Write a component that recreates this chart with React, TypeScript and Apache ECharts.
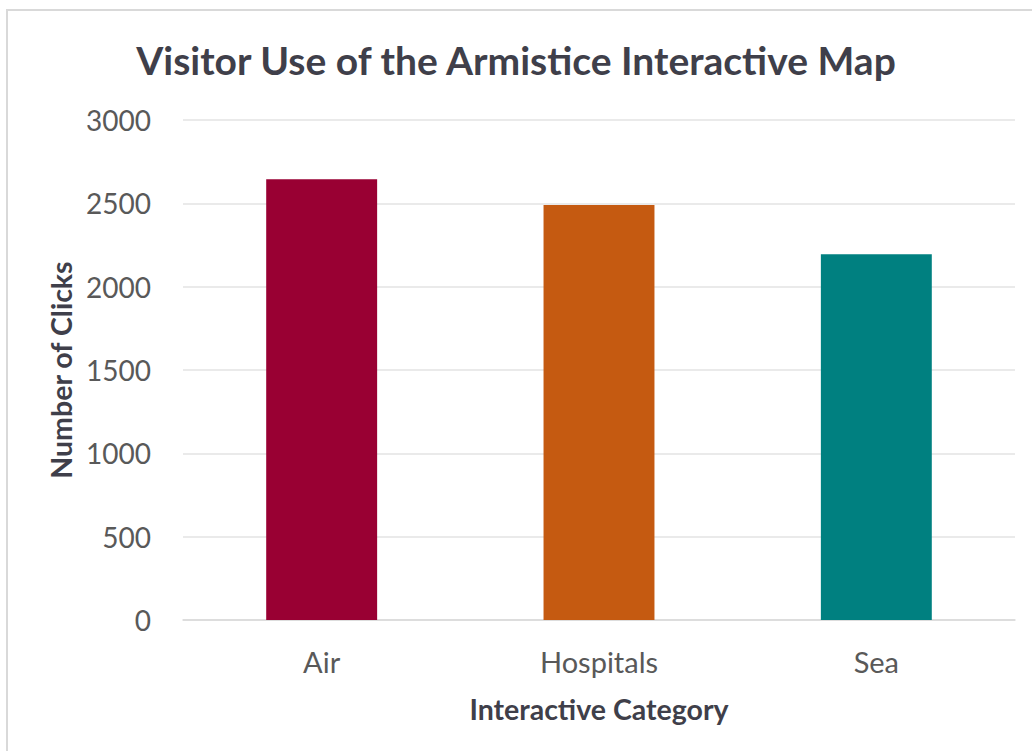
import React, { useEffect, useRef } from "react";
import * as echarts from "echarts";

const categories: string[] = ["Air", "Hospitals", "Sea"];
const clicks: number[] = [2645, 2490, 2195];
const barColors: string[] = ["#990033", "#c55a11", "#008080"];

const TITLE = "Visitor Use of the Armistice Interactive Map";
const X_NAME = "Interactive Category";
const Y_NAME = "Number of Clicks";

export default function App() {
  const ref = useRef<HTMLDivElement>(null);
  useEffect(() => {
    document.body.style.margin = "0";
    if (!ref.current) return;
    const chart = echarts.init(ref.current, null, { renderer: "svg" });
    const font = "Lato, 'Open Sans', sans-serif";
    chart.setOption({
      animation: false,
      backgroundColor: "#ffffff",
      title: {
        text: TITLE,
        left: "center",
        top: 35,
        textStyle: { fontFamily: font, fontSize: 39, fontWeight: "bold", color: "#3f3f4a" },
      },
      graphic: [
        {
          type: "rect",
          shape: { x: 7, y: 10, width: 1200, height: 1000 },
          style: { fill: "none", stroke: "#d9d9d9", lineWidth: 2 },
          silent: true,
        },
      ],
      grid: { left: 183, right: 17, top: 120, bottom: 131, containLabel: false },
      xAxis: {
        type: "category",
        data: categories,
        name: X_NAME,
        nameLocation: "middle",
        nameGap: 74,
        nameTextStyle: { fontFamily: font, fontSize: 28.5, fontWeight: "bold", color: "#3f3f4a" },
        axisLine: { show: true, lineStyle: { color: "#d9d9d9", width: 1.5 } },
        axisTick: { show: false },
        axisLabel: { fontFamily: font, fontSize: 29, color: "#595959", margin: 27 },
      },
      yAxis: {
        type: "value",
        min: 0,
        max: 3000,
        interval: 500,
        name: Y_NAME,
        nameLocation: "middle",
        nameGap: 102,
        nameRotate: 90,
        nameTextStyle: { fontFamily: font, fontSize: 28.5, fontWeight: "bold", color: "#3f3f4a" },
        axisLine: { show: false },
        axisTick: { show: false },
        axisLabel: {
          fontFamily: font,
          fontSize: 28,
          color: "#595959",
          margin: 32,
          formatter: (v: number) => String(v),
        },
        splitLine: { lineStyle: { color: "#e3e3e3", width: 1.5 } },
      },
      series: [
        {
          type: "bar",
          barWidth: "40%",
          data: clicks.map((v, i) => ({ value: v, itemStyle: { color: barColors[i] } })),
        },
      ],
    });
    return () => chart.dispose();
  }, []);
  return <div ref={ref} style={{ width: 1032, height: 751 }} />;
}
